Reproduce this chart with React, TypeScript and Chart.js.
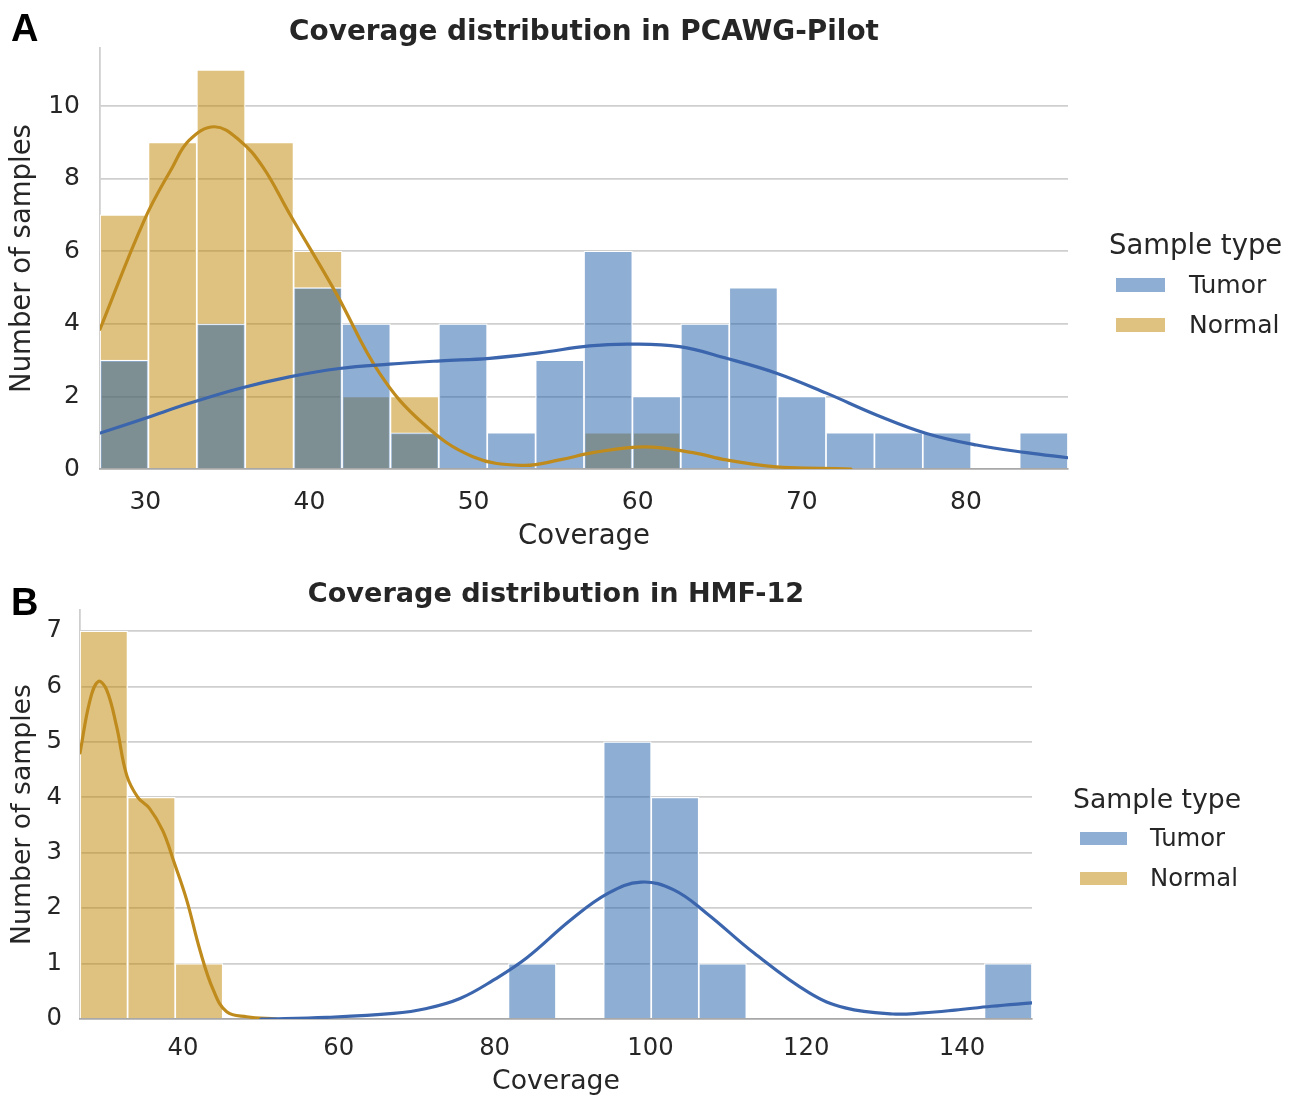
import React, { useEffect, useRef } from "react";
import { Chart, registerables } from "chart.js";

Chart.register(...registerables);

// ---------------- DATA ----------------
// Panel A: PCAWG-Pilot
const pcawgBinCenters = [
  28.7145, 31.6635, 34.6125, 37.5615, 40.5105, 43.4595, 46.4085, 49.3575, 52.3065, 55.2555,
  58.2045, 61.1535, 64.1025, 67.0515, 70.0005, 72.9495, 75.8985, 78.8475, 81.7965, 84.7455,
];
const pcawgTumorCounts = [3, 0, 4, 0, 5, 4, 1, 4, 1, 3, 6, 2, 4, 5, 2, 1, 1, 1, 0, 1];
const pcawgNormalCounts = [7, 9, 11, 9, 6, 2, 2, 0, 0, 0, 1, 1, 0, 0, 0, 0, 0, 0, 0, 0];
const pcawgTumorKdeX = [27.24, 30.0, 32.68, 35.73, 38.78, 41.83, 44.88, 48.0, 50.98, 54.0, 57.07, 59.51, 62.56, 65.41, 68.46, 71.5, 74.55, 77.6, 80.65, 83.7, 86.22];
const pcawgTumorKdeY = [0.99, 1.4, 1.81, 2.22, 2.54, 2.77, 2.89, 2.98, 3.05, 3.2, 3.39, 3.44, 3.37, 3.05, 2.64, 2.09, 1.49, 0.98, 0.66, 0.45, 0.31];
const pcawgNormalKdeX = [27.24, 29.94, 31.67, 32.68, 34.21, 35.73, 37.15, 38.78, 41.63, 44.27, 46.91, 49.96, 53.0, 55.24, 57.27, 60.43, 63.37, 65.41, 68.46, 71.1, 73.0];
const pcawgNormalKdeY = [3.85, 6.86, 8.33, 9.06, 9.43, 9.06, 8.33, 7.04, 4.84, 2.64, 1.26, 0.34, 0.1, 0.25, 0.45, 0.61, 0.45, 0.25, 0.06, 0.02, 0];
const pcawgXTicks = [30, 40, 50, 60, 70, 80];
const pcawgYTicks = [0, 2, 4, 6, 8, 10];

// Panel B: HMF-12
const hmfBinCenters = [
  29.835, 35.945, 42.055, 48.165, 54.275, 60.385, 66.495, 72.605, 78.715, 84.825,
  90.935, 97.045, 103.155, 109.265, 115.375, 121.485, 127.595, 133.705, 139.815, 145.925,
];
const hmfTumorCounts = [0, 0, 0, 0, 0, 0, 0, 0, 0, 1, 0, 5, 4, 1, 0, 0, 0, 0, 0, 1];
const hmfNormalCounts = [7, 4, 1, 0, 0, 0, 0, 0, 0, 0, 0, 0, 0, 0, 0, 0, 0, 0, 0, 0];
const hmfTumorKdeX = [50.0, 58.45, 67.0, 71.28, 75.56, 79.83, 84.1, 89.8, 94.6, 98.8, 103.0, 107.2, 113.3, 120.4, 125.0, 131.1, 135.0, 139.1, 143.8, 148.98];
const hmfTumorKdeY = [0, 0.03, 0.1, 0.19, 0.37, 0.7, 1.1, 1.79, 2.27, 2.47, 2.33, 1.91, 1.19, 0.47, 0.2, 0.09, 0.11, 0.16, 0.23, 0.29];
const hmfNormalKdeX = [26.78, 28.06, 29.13, 30.2, 31.49, 32.77, 34.2, 35.7, 37.4, 38.8, 40.47, 42.18, 43.9, 45.61, 48.18, 52.0];
const hmfNormalKdeY = [4.8, 5.75, 6.09, 5.94, 5.27, 4.4, 4.0, 3.8, 3.4, 2.85, 2.15, 1.24, 0.52, 0.13, 0.04, 0];
const hmfXTicks = [40, 60, 80, 100, 120, 140];
const hmfYTicks = [0, 1, 2, 3, 4, 5, 6, 7];

const seriesLabels = ["Tumor", "Normal"];
const legendTitle = "Sample type";
const xAxisTitle = "Coverage";
const yAxisTitle = "Number of samples";

// ---------------- STYLE ----------------
const FONT = "'DejaVu Sans', 'Noto Sans', sans-serif";
const TEXT = "#262626";
const GRID = "rgba(0,0,0,0.19)";
const TUMOR_FILL = "rgba(29,93,167,0.5)";
const NORMAL_FILL = "rgba(191,133,0,0.5)";
const TUMOR_LINE = "#3b65ad";
const NORMAL_LINE = "#c08b1d";

interface Panel {
  title: string;
  binCenters: number[];
  tumor: number[];
  normal: number[];
  tumorKdeX: number[];
  tumorKdeY: number[];
  normalKdeX: number[];
  normalKdeY: number[];
  xTicks: number[];
  yTicks: number[];
  xMin: number;
  xMax: number;
  yMax: number;
  width: number;
  height: number;
  padTop: number;
  padRight: number;
  yAxisWidth: number;
  xAxisHeight: number;
  tickSize: number;
  labelSize: number;
  titleSize: number;
  titleY: number;
  xTickPad: number;
  yTickPad: number;
  xTitlePadBottom: number;
  yTitlePadTop: number;
}

// Title centred over the plotting area (as matplotlib does)
const centeredTitle = {
  id: "centeredTitle",
  afterDraw(chart: any, _args: any, opts: any) {
    const { ctx, chartArea } = chart;
    ctx.save();
    ctx.font = `bold ${opts.size}px ${FONT}`;
    ctx.fillStyle = TEXT;
    ctx.textAlign = "center";
    ctx.textBaseline = "middle";
    ctx.fillText(opts.text, (chartArea.left + chartArea.right) / 2, opts.y);
    ctx.restore();
  },
};

function buildConfig(p: Panel): any {
  const bar = (counts: number[], bg: string, order: number, label: string) => ({
    type: "bar",
    label,
    order,
    data: p.binCenters.map((x, i) => ({ x, y: counts[i] })),
    backgroundColor: bg,
    borderColor: "#ffffff",
    borderWidth: 1.2,
    borderSkipped: "start",
    categoryPercentage: 1,
    barPercentage: 1,
    grouped: false,
  });
  const line = (xs: number[], ys: number[], color: string, order: number, label: string) => ({
    type: "line",
    label,
    order,
    data: xs.map((x, i) => ({ x, y: ys[i] })),
    borderColor: color,
    borderWidth: 3.2,
    pointRadius: 0,
    fill: false,
    tension: 0.4,
    borderCapStyle: "round",
    borderJoinStyle: "round",
  });
  return {
    type: "bar",
    data: {
      datasets: [
        line(p.tumorKdeX, p.tumorKdeY, TUMOR_LINE, 0, seriesLabels[0] + " KDE"),
        line(p.normalKdeX, p.normalKdeY, NORMAL_LINE, 0, seriesLabels[1] + " KDE"),
        bar(p.tumor, TUMOR_FILL, 1, seriesLabels[0]),
        bar(p.normal, NORMAL_FILL, 2, seriesLabels[1]),
      ],
    },
    plugins: [centeredTitle],
    options: {
      animation: false,
      responsive: false,
      maintainAspectRatio: false,
      layout: { padding: { left: 0, top: p.padTop, bottom: 0, right: p.padRight } },
      plugins: {
        legend: { display: false },
        tooltip: { enabled: false },
        title: { display: false },
        centeredTitle: { text: p.title, size: p.titleSize, y: p.titleY },
      },
      scales: {
        x: {
          type: "linear",
          min: p.xMin,
          max: p.xMax,
          offset: false,
          grid: { display: true, color: "rgba(0,0,0,0)", drawTicks: false, offset: false },
          border: { display: true, color: GRID, width: 1.8 },
          ticks: { color: TEXT, font: { family: FONT, size: p.tickSize }, padding: p.xTickPad, maxRotation: 0 },
          afterBuildTicks: (s: any) => {
            s.ticks = p.xTicks.map((v) => ({ value: v }));
          },
          afterFit: (s: any) => {
            s.height = p.xAxisHeight;
          },
          title: {
            display: true,
            text: xAxisTitle,
            color: TEXT,
            font: { family: FONT, size: p.labelSize },
            padding: { top: 0, bottom: p.xTitlePadBottom },
          },
        },
        y: {
          type: "linear",
          min: 0,
          max: p.yMax,
          grid: { color: GRID, lineWidth: 1.8, drawTicks: false },
          border: { display: true, color: GRID, width: 1.8 },
          ticks: { color: TEXT, font: { family: FONT, size: p.tickSize }, padding: p.yTickPad },
          afterBuildTicks: (s: any) => {
            s.ticks = p.yTicks.map((v) => ({ value: v }));
          },
          afterFit: (s: any) => {
            s.width = p.yAxisWidth;
          },
          title: {
            display: true,
            text: yAxisTitle,
            color: TEXT,
            font: { family: FONT, size: p.labelSize },
            padding: { top: p.yTitlePadTop, bottom: 0 },
          },
        },
      },
    },
  };
}

const panelA: Panel = {
  title: "Coverage distribution in PCAWG-Pilot",
  binCenters: pcawgBinCenters,
  tumor: pcawgTumorCounts,
  normal: pcawgNormalCounts,
  tumorKdeX: pcawgTumorKdeX,
  tumorKdeY: pcawgTumorKdeY,
  normalKdeX: pcawgNormalKdeX,
  normalKdeY: pcawgNormalKdeY,
  xTicks: pcawgXTicks,
  yTicks: pcawgYTicks,
  xMin: 27.24,
  xMax: 86.22,
  yMax: 11.6,
  width: 1303,
  height: 560,
  padTop: 48,
  padRight: 235,
  yAxisWidth: 100,
  xAxisHeight: 91,
  tickSize: 25,
  labelSize: 27.5,
  titleSize: 27.9,
  titleY: 32.5,
  xTickPad: 18,
  yTickPad: 20,
  xTitlePadBottom: 6.5,
  yTitlePadTop: 6,
};

const panelB: Panel = {
  title: "Coverage distribution in HMF-12",
  binCenters: hmfBinCenters,
  tumor: hmfTumorCounts,
  normal: hmfNormalCounts,
  tumorKdeX: hmfTumorKdeX,
  tumorKdeY: hmfTumorKdeY,
  normalKdeX: hmfNormalKdeX,
  normalKdeY: hmfNormalKdeY,
  xTicks: hmfXTicks,
  yTicks: hmfYTicks,
  xMin: 26.78,
  xMax: 148.98,
  yMax: 7.38,
  width: 1303,
  height: 539,
  padTop: 50,
  padRight: 271,
  yAxisWidth: 80,
  xAxisHeight: 80,
  tickSize: 24.3,
  labelSize: 26.7,
  titleSize: 27.1,
  titleY: 35,
  xTickPad: 15.5,
  yTickPad: 18,
  xTitlePadBottom: 1,
  yTitlePadTop: 6.6,
};

function ChartPanel({ panel, top }: { panel: Panel; top: number }) {
  const ref = useRef<HTMLCanvasElement>(null);
  useEffect(() => {
    const chart = new Chart(ref.current as HTMLCanvasElement, buildConfig(panel));
    return () => chart.destroy();
  }, []);
  return (
    <canvas
      ref={ref}
      width={panel.width}
      height={panel.height}
      style={{ position: "absolute", left: 0, top, width: panel.width, height: panel.height }}
    />
  );
}

function Legend({
  left,
  titleCenterY,
  patchLeft,
  patchW,
  patchH,
  textLeft,
  itemCenters,
  titleSize,
  itemSize,
}: {
  left: number;
  titleCenterY: number;
  patchLeft: number;
  patchW: number;
  patchH: number;
  textLeft: number;
  itemCenters: number[];
  titleSize: number;
  itemSize: number;
}) {
  const fills = [TUMOR_FILL, NORMAL_FILL];
  return (
    <>
      <div
        style={{
          position: "absolute",
          left,
          top: titleCenterY - 20,
          height: 40,
          lineHeight: "40px",
          fontFamily: FONT,
          fontSize: titleSize,
          color: TEXT,
          whiteSpace: "nowrap",
        }}
      >
        {legendTitle}
      </div>
      {seriesLabels.map((lab, i) => (
        <React.Fragment key={lab}>
          <div
            style={{
              position: "absolute",
              left: patchLeft,
              top: itemCenters[i] - patchH / 2,
              width: patchW,
              height: patchH,
              background: fills[i],
            }}
          />
          <div
            style={{
              position: "absolute",
              left: textLeft,
              top: itemCenters[i] - 20,
              height: 40,
              lineHeight: "40px",
              fontFamily: FONT,
              fontSize: itemSize,
              color: TEXT,
              whiteSpace: "nowrap",
            }}
          >
            {lab}
          </div>
        </React.Fragment>
      ))}
    </>
  );
}

const panelLabelStyle: React.CSSProperties = {
  position: "absolute",
  left: 11,
  height: 38,
  lineHeight: "38px",
  fontFamily: "'Liberation Sans', Arial, sans-serif",
  fontWeight: "bold",
  fontSize: 38,
  color: "#000",
};

export default function App() {
  return (
    <div style={{ position: "absolute", left: 0, top: 0, width: 1303, height: 1099, background: "#fff", overflow: "hidden" }}>
      <ChartPanel panel={panelA} top={0} />
      <ChartPanel panel={panelB} top={560} />
      <div style={{ ...panelLabelStyle, top: 9 }}>A</div>
      <div style={{ ...panelLabelStyle, top: 583 }}>B</div>
      <Legend
        left={1109}
        titleCenterY={244}
        patchLeft={1116}
        patchW={49}
        patchH={14}
        textLeft={1189}
        itemCenters={[285, 325]}
        titleSize={27.5}
        itemSize={25}
      />
      <Legend
        left={1073}
        titleCenterY={799}
        patchLeft={1080}
        patchW={47}
        patchH={13}
        textLeft={1150}
        itemCenters={[838, 878]}
        titleSize={26.7}
        itemSize={24.3}
      />
    </div>
  );
}
